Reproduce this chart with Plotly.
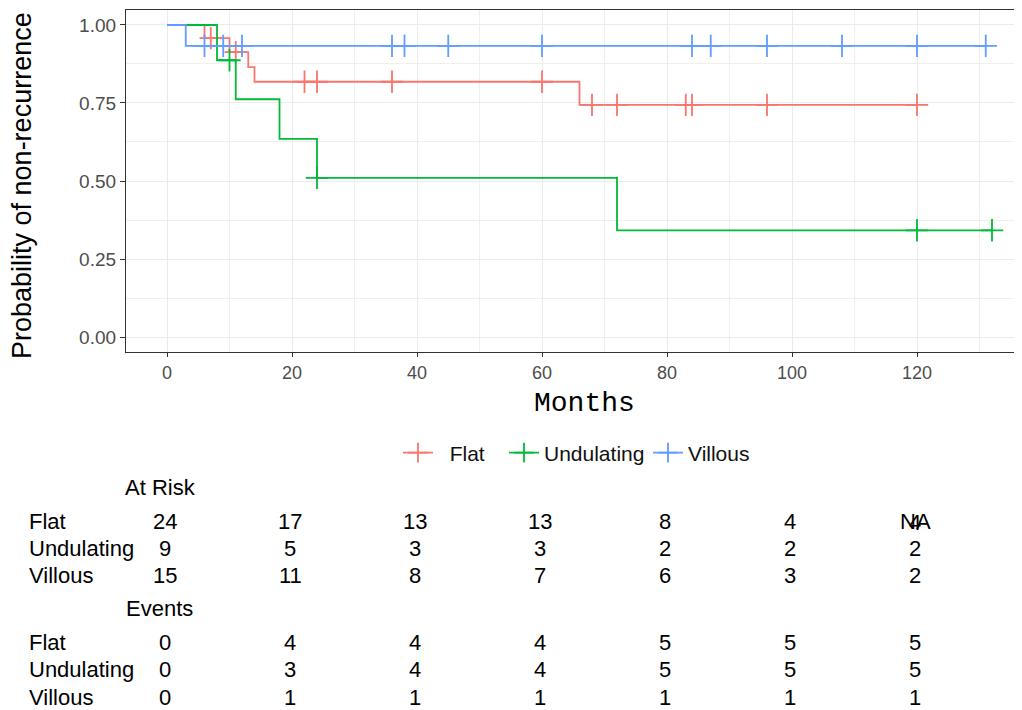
import numpy as np
import plotly.graph_objects as go

# ---------------- data ----------------
groups = ["Flat", "Undulating", "Villous"]
colors = {"Flat": "#F8766D", "Undulating": "#00BA38", "Villous": "#619CFF"}

# Kaplan-Meier steps: time of each step and survival after it (last = end of line)
flat_t = [0, 6, 10, 13, 14, 66, 120]
flat_s = [1.0, 0.958, 0.913, 0.865, 0.818, 0.744, 0.744]
und_t = [0, 8, 11, 18, 24, 72, 132]
und_s = [1.0, 0.887, 0.762, 0.635, 0.510, 0.342, 0.342]
vil_t = [0, 3, 131]
vil_s = [1.0, 0.933, 0.933]

# censoring times
flat_c = [7, 11, 22, 24, 36, 60, 68, 72, 83, 84, 96, 120]
und_c = [10, 24, 120, 132]
vil_c = [6, 9, 12, 36, 38, 45, 60, 84, 87, 96, 108, 120, 131]

# risk / event tables
table_times = [0, 20, 40, 60, 80, 100, 120]
risk_flat = ["24", "17", "13", "13", "8", "4", "NA"]
risk_und = ["9", "5", "3", "3", "2", "2", "2"]
risk_vil = ["15", "11", "8", "7", "6", "3", "2"]
ev_flat = ["0", "4", "4", "4", "5", "5", "5"]
ev_und = ["0", "3", "4", "4", "5", "5", "5"]
ev_vil = ["0", "1", "1", "1", "1", "1", "1"]

x_ticks = [0, 20, 40, 60, 80, 100, 120]
y_ticks = [0.0, 0.25, 0.5, 0.75, 1.0]

steps = {"Flat": (flat_t, flat_s), "Undulating": (und_t, und_s), "Villous": (vil_t, vil_s)}
cens = {"Flat": flat_c, "Undulating": und_c, "Villous": vil_c}


def surv_at(t_arr, s_arr, t):
    idx = np.searchsorted(np.array(t_arr), t, side="right") - 1
    return s_arr[idx]


# ---------------- layout geometry (pixels, page has 8px body margin) ----------------
OFF = 8
W, H = 1022 - OFF, 710 - OFF
L, R, T = 126 - OFF, 0, 10 - OFF
PLOT_BOTTOM = 352 - OFF
B = H - PLOT_BOTTOM
PW, PH = W - L - R, PLOT_BOTTOM - T


def py(p):  # reference pixel y -> paper y
    return (PLOT_BOTTOM - (p - OFF)) / PH


def px(p):  # reference pixel x -> paper x
    return ((p - OFF) - L) / PW


fig = go.Figure()

for g in groups:
    t_arr, s_arr = steps[g]
    fig.add_trace(go.Scatter(
        x=t_arr, y=s_arr, mode="lines", line=dict(color=colors[g], width=1.8, shape="hv"),
        showlegend=False, hoverinfo="skip"))
    cy = [surv_at(t_arr, s_arr, c) for c in cens[g]]
    fig.add_trace(go.Scatter(
        x=cens[g], y=cy, mode="markers",
        marker=dict(symbol="cross-thin-open", size=16, color=colors[g],
                    line=dict(color=colors[g], width=1.8)),
        showlegend=False, hoverinfo="skip"))

# legend entries (one legend per group so positions can match)
legend_names = {"Flat": "\u00a0\u00a0Flat", "Undulating": "Undulating", "Villous": "Villous"}
legend_ids = {"Flat": "legend", "Undulating": "legend2", "Villous": "legend3"}
legend_x = {"Flat": 398, "Undulating": 504, "Villous": 648}
for g in groups:
    fig.add_trace(go.Scatter(
        x=[None], y=[None], mode="lines+markers", name=legend_names[g],
        line=dict(color=colors[g], width=1.8),
        marker=dict(symbol="cross-thin-open", size=14, color=colors[g],
                    line=dict(color=colors[g], width=1.8)),
        legend=legend_ids[g], showlegend=True))

legend_common = dict(font=dict(family="Liberation Sans", size=21, color="#111111"),
                     bgcolor="rgba(0,0,0,0)", borderwidth=0, orientation="h",
                     xanchor="left", yanchor="middle", y=py(453))

annotations = []
# axis titles
annotations.append(dict(text="Probability of non-recurrence", x=px(22), y=py(186),
                        xref="paper", yref="paper", showarrow=False, textangle=-90,
                        xanchor="center", yanchor="middle",
                        font=dict(family="Liberation Sans", size=27, color="#000000")))
annotations.append(dict(text="Months", x=px(584), y=py(403), xref="paper", yref="paper",
                        showarrow=False, xanchor="center", yanchor="middle",
                        font=dict(family="Liberation Mono", size=28, color="#000000")))

tfont = dict(family="Liberation Sans", size=22, color="#000000")


def add_text(text, xv, yv, xref, anchor="center"):
    annotations.append(dict(text=text, x=xv, y=yv, xref=xref, yref="paper", showarrow=False,
                            xanchor=anchor, yanchor="middle", font=tfont))


add_text("At Risk", px(123), py(487), "paper", "left")
add_text("Events", px(124), py(608), "paper", "left")

rows = [
    ("Flat", risk_flat, 521), ("Undulating", risk_und, 548), ("Villous", risk_vil, 575),
    ("Flat", ev_flat, 642), ("Undulating", ev_und, 669), ("Villous", ev_vil, 697),
]
for label, vals, ypix in rows:
    add_text(label, px(27), py(ypix), "paper", "left")
    for tv, v in zip(table_times, vals):
        add_text(v, tv - 0.3, py(ypix), "x")
# overlapping "4" on the NA cell, as in the reference
add_text("4", table_times[-1] - 0.3, py(522), "x")

fig.update_layout(
    width=W, height=H, autosize=False,
    margin=dict(l=L, r=R, t=T, b=B),
    paper_bgcolor="white", plot_bgcolor="white",
    showlegend=True,
    legend=dict(**legend_common, x=px(legend_x["Flat"])),
    legend2=dict(**legend_common, x=px(legend_x["Undulating"])),
    legend3=dict(**legend_common, x=px(legend_x["Villous"])),
    annotations=annotations,
)

fig.update_xaxes(
    range=[-6.56, 136.8], tickvals=x_ticks, ticktext=[str(v) for v in x_ticks],
    showgrid=True, gridcolor="#EBEBEB", gridwidth=1.2,
    minor=dict(dtick=10, tick0=0, showgrid=True, gridcolor="#EFEFEF", gridwidth=1),
    showline=True, linecolor="#333333", linewidth=1.3, mirror=True,
    ticks="outside", ticklen=4, tickcolor="#333333", tickwidth=1.2,
    tickfont=dict(family="Liberation Sans", size=18, color="#4D4D4D"),
    zeroline=False,
)
fig.update_yaxes(
    range=[-0.048, 1.048], tickvals=y_ticks, ticktext=[f"{v:.2f}" for v in y_ticks],
    showgrid=True, gridcolor="#EBEBEB", gridwidth=1.2,
    minor=dict(dtick=0.125, tick0=0, showgrid=True, gridcolor="#EFEFEF", gridwidth=1),
    showline=True, linecolor="#333333", linewidth=1.3, mirror=False,
    ticks="outside", ticklen=5, tickcolor="#333333", tickwidth=1.2,
    tickfont=dict(family="Liberation Sans", size=19, color="#4D4D4D"),
    zeroline=False,
)

fig.write_html("out.html")
